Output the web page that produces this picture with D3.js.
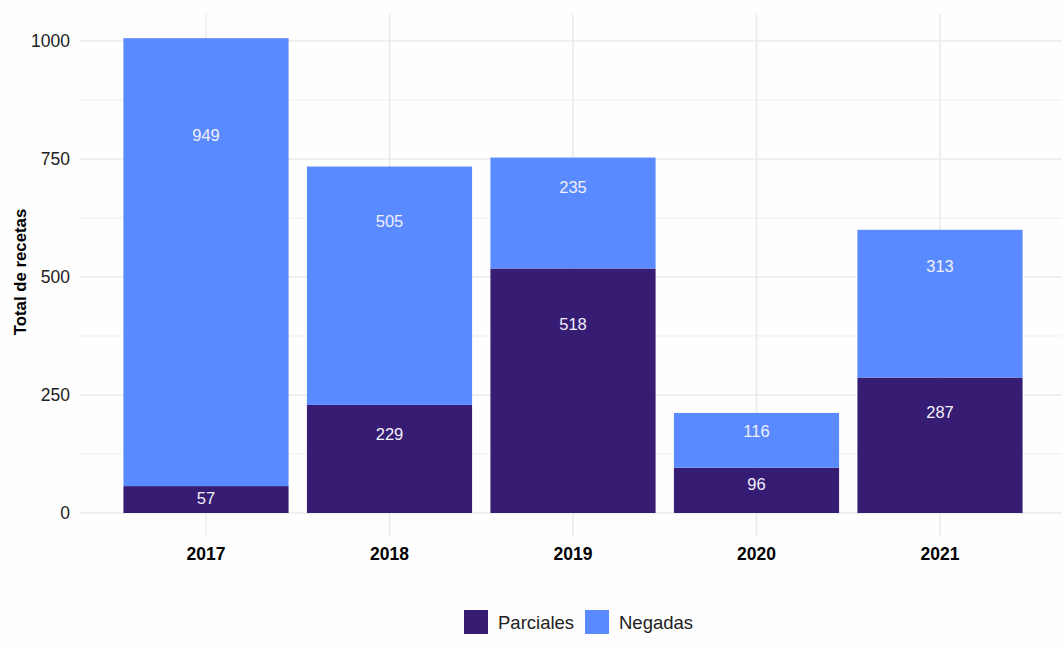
<!DOCTYPE html>
<html>
<head>
<meta charset="utf-8">
<script src="https://cdn.jsdelivr.net/npm/d3@7"></script>
<style>
  html, body { margin: 0; padding: 0; background: #fefefe; }
  svg { display: block; font-family: "Liberation Sans", Arial, sans-serif; }
</style>
</head>
<body>
<svg id="chart" width="1062" height="648"></svg>
<script>
// Recetas por año: parciales y negadas (apiladas)
const years = ["2017", "2018", "2019", "2020", "2021"];
const parciales = [57, 229, 518, 96, 287];
const negadas = [949, 505, 235, 116, 313];
const seriesNames = ["Parciales", "Negadas"];
const seriesColors = ["#361c73", "#5a8aff"];
const yTicks = [0, 250, 500, 750, 1000];
const yMinorTicks = [125, 375, 625, 875];
const yTitle = "Total de recetas";

const svg = d3.select("#chart");
const panel = { left: 79, right: 1062, top: 14, bottom: 537 };

const x = d3.scaleBand()
  .domain(years)
  .range([114.25, 1031.75])
  .paddingInner(0.1)
  .paddingOuter(0.05);

const y = d3.scaleLinear().domain([0, 1000]).range([513, 41]);

// Stack the two series
const rows = years.map((yr, i) => ({ year: yr, Parciales: parciales[i], Negadas: negadas[i] }));
const stacked = d3.stack().keys(seriesNames)(rows);

// Grid
const grid = svg.append("g");
grid.selectAll("line.minor").data(yMinorTicks).join("line")
  .attr("x1", panel.left).attr("x2", panel.right)
  .attr("y1", d => y(d)).attr("y2", d => y(d))
  .attr("stroke", "#efefef").attr("stroke-width", 1);
grid.selectAll("line.major").data(yTicks).join("line")
  .attr("x1", panel.left).attr("x2", panel.right)
  .attr("y1", d => y(d)).attr("y2", d => y(d))
  .attr("stroke", "#ebebeb").attr("stroke-width", 1.6);
grid.selectAll("line.vert").data(years).join("line")
  .attr("x1", d => x(d) + x.bandwidth() / 2).attr("x2", d => x(d) + x.bandwidth() / 2)
  .attr("y1", panel.top).attr("y2", panel.bottom)
  .attr("stroke", "#ebebeb").attr("stroke-width", 1.6);

// Bars
const layers = svg.append("g").selectAll("g").data(stacked).join("g")
  .attr("fill", (d, i) => seriesColors[i]);
layers.selectAll("rect").data(d => d).join("rect")
  .attr("x", d => x(d.data.year))
  .attr("width", x.bandwidth())
  .attr("y", d => y(d[1]))
  .attr("height", d => y(d[0]) - y(d[1]));

// Value labels, placed at 80% of each segment
const labels = svg.append("g");
stacked.forEach(layer => {
  labels.selectAll(null).data(layer).join("text")
    .attr("x", d => x(d.data.year) + x.bandwidth() / 2)
    .attr("y", d => y(d[0] + 0.8 * (d[1] - d[0])) + 13)
    .attr("text-anchor", "middle")
    .attr("font-size", 16.5)
    .attr("fill", "#f2f0fa")
    .text(d => d[1] - d[0]);
});

// Y axis tick labels
svg.append("g").selectAll("text").data(yTicks).join("text")
  .attr("x", 70)
  .attr("y", d => y(d) + 6.3)
  .attr("text-anchor", "end")
  .attr("font-size", 17.5)
  .attr("fill", "#222")
  .text(d => d);

// X axis tick labels
svg.append("g").selectAll("text").data(years).join("text")
  .attr("x", d => x(d) + x.bandwidth() / 2)
  .attr("y", 560)
  .attr("text-anchor", "middle")
  .attr("font-size", 17.5)
  .attr("font-weight", "bold")
  .attr("fill", "#000")
  .text(d => d);

// Y axis title
svg.append("text")
  .attr("transform", "translate(26,272) rotate(-90)")
  .attr("text-anchor", "middle")
  .attr("font-size", 16.8)
  .attr("font-weight", "bold")
  .attr("fill", "#000")
  .text(yTitle);

// Legend
const legendX = [464, 585];
const legend = svg.append("g").selectAll("g").data(seriesNames).join("g")
  .attr("transform", (d, i) => `translate(${legendX[i]},610)`);
legend.append("rect")
  .attr("width", 24).attr("height", 24)
  .attr("fill", (d, i) => seriesColors[i]);
legend.append("text")
  .attr("x", 34).attr("y", 19)
  .attr("font-size", 18.5)
  .attr("fill", "#222")
  .text(d => d);
</script>
</body>
</html>
